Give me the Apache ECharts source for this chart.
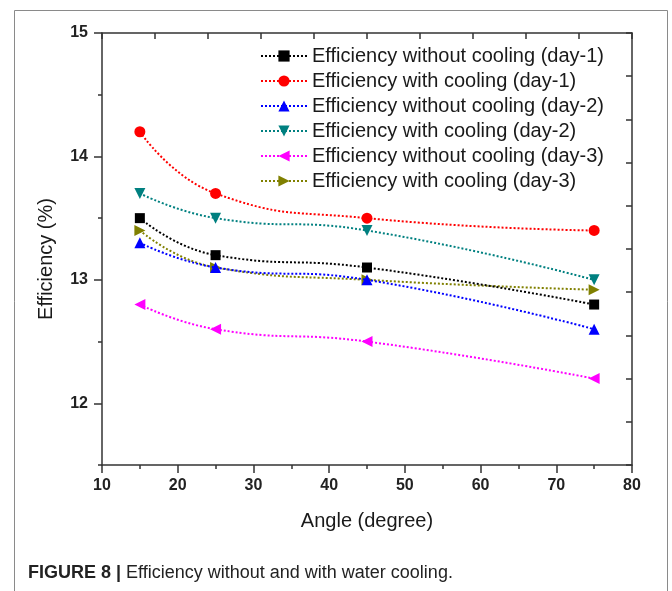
<!DOCTYPE html>
<html>
<head>
<meta charset="utf-8">
<script src="https://cdn.jsdelivr.net/npm/echarts@6/dist/echarts.min.js"></script>
<style>
html,body{margin:0;padding:0;background:#fff;}
#main{width:672px;height:591px;}
</style>
</head>
<body>
<div id="main"></div>
<script>
let angles = [15, 25, 45, 75];
let names = [
    'Efficiency without cooling (day-1)',
    'Efficiency with cooling (day-1)',
    'Efficiency without cooling (day-2)',
    'Efficiency with cooling (day-2)',
    'Efficiency without cooling (day-3)',
    'Efficiency with cooling (day-3)'
];
let noCool1 = [13.5, 13.2, 13.1, 12.8];
let cool1 = [14.2, 13.7, 13.5, 13.4];
let noCool2 = [13.3, 13.1, 13.0, 12.6];
let cool2 = [13.7, 13.5, 13.4, 13.0];
let noCool3 = [12.8, 12.6, 12.5, 12.2];
let cool3 = [13.4, 13.1, 13.0, 12.92];
let yMajor = [12, 13, 14, 15];

let colors = ['#000000', '#ff0000', '#0000ff', '#008080', '#ff00ff', '#808000'];
let symbols = ['rect', 'circle', 'triangle', 'triangle', 'triangle', 'triangle'];
let rotates = [0, 0, 0, 180, 90, -90];
let sizes = [10, 11, 11, 11, 11, 11];
let allData = [noCool1, cool1, noCool2, cool2, noCool3, cool3];

function pairs(vals) {
    let out = [];
    for (let i = 0; i < vals.length; i++) {
        out.push([angles[i], vals[i]]);
    }
    return out;
}

let series = [];
for (let i = 0; i < names.length; i++) {
    series.push({
        name: names[i],
        type: 'line',
        xAxisIndex: 0,
        yAxisIndex: 0,
        data: pairs(allData[i]),
        smooth: 0.5,
        symbol: symbols[i],
        symbolSize: sizes[i],
        symbolRotate: rotates[i],
        color: colors[i],
        itemStyle: {color: colors[i]},
        lineStyle: {color: colors[i], width: 2, type: [2, 2]},
        z: 10 - i
    });
}

let myChart = echarts.init(document.getElementById('main'));
let labelFont = {fontFamily: 'Liberation Sans', fontWeight: 'bold', fontSize: 16, color: '#222'};
let axisCol = '#333';
let option = {
    animation: false,
    backgroundColor: '#fff',
    grid: {left: 102, right: 40, top: 33, bottom: 126},
    legend: {
        data: names,
        orient: 'vertical',
        left: 255,
        top: 41,
        itemWidth: 46,
        itemHeight: 14,
        itemGap: 5,
        textStyle: {fontFamily: 'Liberation Sans', fontSize: 20, color: '#1a1a1a'}
    },
    xAxis: [{
        type: 'value',
        min: 10,
        max: 80,
        interval: 10,
        position: 'bottom',
        name: 'Angle (degree)',
        nameLocation: 'middle',
        nameGap: 46,
        nameTextStyle: {fontFamily: 'Liberation Sans', fontSize: 20, color: '#1a1a1a'},
        axisLine: {onZero: false, lineStyle: {color: axisCol, width: 1.5}},
        axisTick: {show: true, length: 8, lineStyle: {color: axisCol, width: 1.5}},
        minorTick: {show: true, splitNumber: 2, length: 4, lineStyle: {color: axisCol, width: 1.5}},
        axisLabel: Object.assign({margin: 13}, labelFont),
        splitLine: {show: false}
    }, {
        type: 'value',
        min: 0,
        max: 10,
        interval: 1,
        position: 'top',
        axisLine: {onZero: false, lineStyle: {color: axisCol, width: 1.5}},
        axisTick: {show: true, inside: true, length: 6, lineStyle: {color: axisCol, width: 1.5}},
        axisLabel: {show: false},
        splitLine: {show: false}
    }],
    yAxis: [{
        type: 'value',
        min: 11.5,
        max: 15,
        interval: 0.5,
        position: 'left',
        name: 'Efficiency (%)',
        nameLocation: 'middle',
        nameGap: 46,
        nameTextStyle: {fontFamily: 'Liberation Sans', fontSize: 20, color: '#1a1a1a', padding: [0, 20, 0, 0]},
        axisLine: {onZero: false, lineStyle: {color: axisCol, width: 1.5}},
        axisTick: {show: true, length: 8, customValues: yMajor, lineStyle: {color: axisCol, width: 1.5}},
        axisLabel: Object.assign({margin: 14, customValues: yMajor}, labelFont),
        splitLine: {show: false}
    }, {
        type: 'value',
        min: 0,
        max: 10,
        interval: 1,
        position: 'right',
        axisLine: {onZero: false, lineStyle: {color: axisCol, width: 1.5}},
        axisTick: {show: true, inside: true, length: 6, lineStyle: {color: axisCol, width: 1.5}},
        axisLabel: {show: false},
        splitLine: {show: false}
    }, {
        type: 'value',
        min: 11.5,
        max: 15,
        interval: 0.5,
        position: 'left',
        offset: 0,
        axisLine: {show: false},
        axisTick: {show: true, length: 4, lineStyle: {color: axisCol, width: 1.5}},
        axisLabel: {show: false},
        splitLine: {show: false}
    }],
    graphic: [{
        type: 'rect',
        shape: {x: 14.5, y: 10.5, width: 653, height: 600},
        style: {fill: 'none', stroke: '#8a8a8a', lineWidth: 1},
        silent: true
    }, {
        type: 'text',
        left: 28,
        top: 564,
        style: {
            text: '{b|FIGURE 8 |} Efficiency without and with water cooling.',
            rich: {
                b: {fontFamily: 'Liberation Sans', fontWeight: 'bold', fontSize: 18, fill: '#222'}
            },
            fontFamily: 'Liberation Sans',
            fontSize: 18,
            fill: '#222'
        }
    }],
    series: series
};
myChart.setOption(option);
</script>
</body>
</html>
